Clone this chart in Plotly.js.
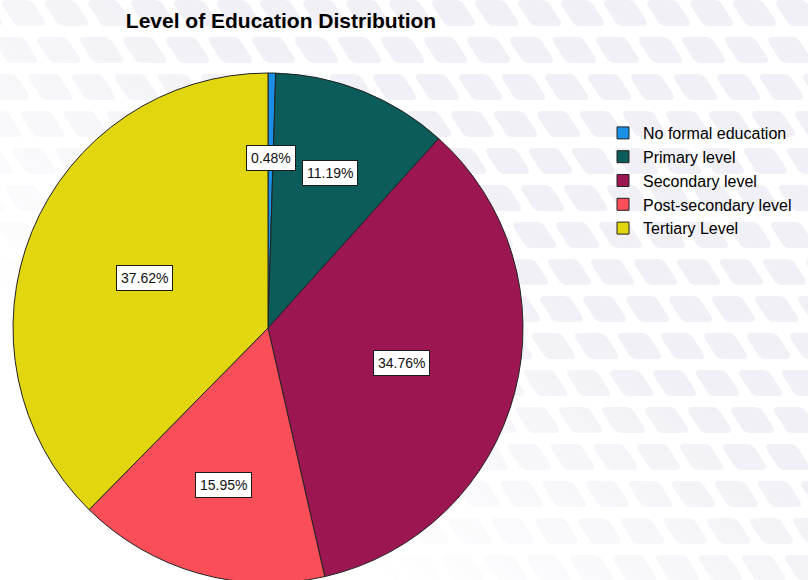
<!DOCTYPE html>
<html>
<head>
<meta charset="utf-8">
<script src="https://cdn.plot.ly/plotly-3.0.1.min.js"></script>
<style>
  html, body { margin: 0; padding: 0; overflow: hidden; background: #ffffff; }
  #chart { width: 808px; height: 600px; }
</style>
</head>
<body>
<div id="chart"></div>
<script>
// ---- data ----
const categories = ["No formal education", "Primary level", "Secondary level", "Post-secondary level", "Tertiary Level"];
const percents = [0.48, 11.19, 34.76, 15.95, 37.62];
const labelTexts = ["0.48%", "11.19%", "34.76%", "15.95%", "37.62%"];
const sliceColors = ["#1a8fe6", "#0b5c5a", "#9c1752", "#fa4e59", "#e2d60e"];

// ---- layout constants ----
const W = 808, H = 600;
const domX = [13 / W, 523 / W];
const domY = [(H - 583) / H, (H - 73) / H];

// pie geometry (as Plotly computes it)
const cx = (domX[0] + domX[1]) / 2 * W;
const cyPx = H - (domY[0] + domY[1]) / 2 * H;
const R = Math.min((domX[1] - domX[0]) * W, (domY[1] - domY[0]) * H) / 2;

// label annotations at slice centroids
const total = percents.reduce((a, b) => a + b, 0);
let cum = 0;
const annotations = percents.map((v, i) => {
  const frac = v / total;
  const theta = frac * 2 * Math.PI;
  const mid = (cum + frac / 2) * 2 * Math.PI; // clockwise from 12 o'clock
  cum += frac;
  const rc = 4 * R * Math.sin(theta / 2) / (3 * theta);
  const px = cx + rc * Math.sin(mid);
  const py = cyPx - rc * Math.cos(mid);
  return {
    x: px / W, y: (H - py) / H, xref: "paper", yref: "paper",
    xanchor: "center", yanchor: "middle",
    text: labelTexts[i], showarrow: false,
    font: { family: "Liberation Sans, Arial, sans-serif", size: 14, color: "#111111" },
    bgcolor: "#ffffff", bordercolor: "#1a1a1a", borderwidth: 1, borderpad: 4
  };
});

// decorative background pattern (SVG)
function bgSvg() {
  let shapes = "";
  for (let r = -2; r < 20; r++) {
    for (let c = -2; c < 22; c++) {
      const x = c * 43 - r * 8;
      const y = r * 37;
      shapes += `<path d="M${x+6},${y} h20 q6,0 9,6 l9,14 q3,6 -3,6 h-20 q-6,0 -9,-6 l-9,-14 q-3,-6 3,-6 z"/>`;
    }
  }
  const svg = `<svg xmlns="http://www.w3.org/2000/svg" width="${W}" height="${H}">
<defs>
<linearGradient id="g" x1="0" y1="1" x2="1" y2="0">
<stop offset="0.25" stop-color="#fff" stop-opacity="0"/>
<stop offset="0.6" stop-color="#fff" stop-opacity="1"/>
</linearGradient>
<mask id="m"><rect width="${W}" height="${H}" fill="url(#g)"/></mask>
</defs>
<g fill="#f1f0f6" mask="url(#m)">${shapes}</g>
</svg>`;
  return "data:image/svg+xml;base64," + btoa(svg);
}

const trace = {
  type: "pie",
  labels: categories,
  values: percents,
  sort: false,
  direction: "clockwise",
  rotation: 0,
  textinfo: "none",
  hoverinfo: "label+percent",
  marker: { colors: sliceColors, line: { color: "#222222", width: 1 } },
  domain: { x: domX, y: domY }
};

const layout = {
  width: W, height: H,
  margin: { l: 0, r: 0, t: 0, b: 0 },
  paper_bgcolor: "#ffffff",
  title: {
    text: "<b>Level of Education Distribution</b>",
    font: { family: "Liberation Sans, Arial, sans-serif", size: 21, color: "#000000" },
    x: 281 / W, xanchor: "center", xref: "paper",
    y: 1 - 21 / H, yanchor: "middle", yref: "container"
  },
  showlegend: true,
  legend: {
    x: 603 / W, xanchor: "left", y: (H - 116) / H, yanchor: "top",
    bgcolor: "rgba(0,0,0,0)",
    font: { family: "Liberation Sans, Arial, sans-serif", size: 16, color: "#000000" },
    traceorder: "normal", itemclick: false
  },
  annotations: annotations,
  images: [{
    source: bgSvg(), xref: "paper", yref: "paper", x: 0, y: 1,
    sizex: 1, sizey: 1, xanchor: "left", yanchor: "top", sizing: "stretch", layer: "below"
  }]
};

Plotly.newPlot("chart", [trace], layout, { displayModeBar: false, staticPlot: true });
</script>
</body>
</html>
